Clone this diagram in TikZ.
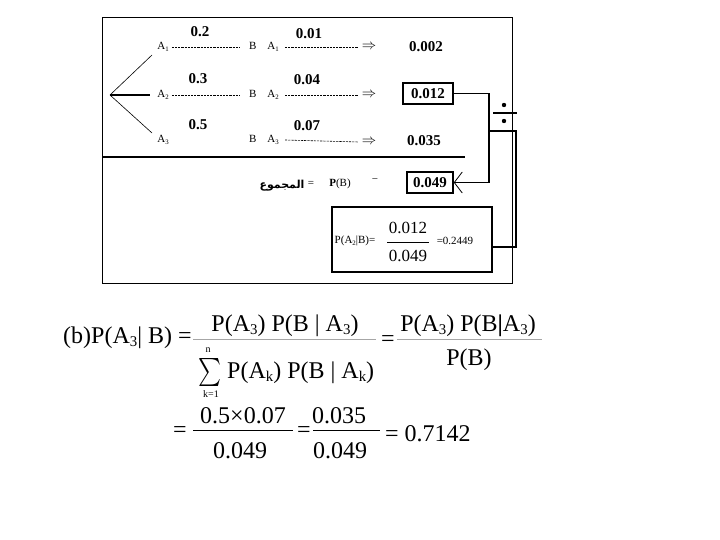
\documentclass[tikz,border=0pt]{standalone}
\usepackage{fontspec}
\setmainfont{Liberation Serif}
\newfontfamily\arabicfont[Script=Arabic]{DejaVu Sans}
\TeXXeTstate=1
\usetikzlibrary{arrows.meta}
\newcommand{\dn}[1]{\raisebox{-0.35ex}{\scalebox{0.62}{#1}}}
\begin{document}
\begin{tikzpicture}[x=1pt,y=-1pt,
  prob/.style={font=\fontsize{15}{15}\selectfont\bfseries, inner sep=0pt},
  lab/.style={font=\fontsize{11}{11}\selectfont, inner sep=0pt},
  small/.style={font=\fontsize{11}{11}\selectfont, inner sep=0pt},
  mid/.style={font=\fontsize{17}{17}\selectfont, inner sep=0pt},
  eq/.style={font=\fontsize{24}{24}\selectfont, inner sep=0pt},
  arr/.style={font=\fontsize{15}{15}\selectfont, inner sep=0pt},
  dashline/.style={dash pattern=on 2.2pt off 1pt, line width=0.6pt},
  conn/.style={line width=1.5pt},
  valbox/.style={draw, line width=1.5pt, inner sep=0pt},
  branch/.style={line width=0.6pt}]
\useasboundingbox (0,0) rectangle (720,540);
% frame
\draw[line width=0.8pt] (102,17) rectangle (512,283);
% tree
\coordinate (root) at (110,95);
\coordinate (e1) at (152,55);
\coordinate (e2) at (150,95);
\coordinate (e3) at (152,133);
\draw[branch] (root) -- (e1);
\draw[line width=1.6pt] (root) -- (e2);
\draw[branch] (root) -- (e3);
\node[lab] (a1) at (163,47) {A\dn{1}};
\node[lab] (a2) at (163,95) {A\dn{2}};
\node[lab] (a3) at (163,140) {A\dn{3}};
\node[prob] (p1) at (200,32) {0.2};
\node[prob] (p2) at (198,79) {0.3};
\node[prob] (p3) at (198,125) {0.5};
\node[lab] (b1) at (264,47) {B\quad A\dn{1}};
\node[lab] (b2) at (264,95) {B\quad A\dn{2}};
\node[lab] (b3) at (264,140) {B\quad A\dn{3}};
\draw[dashline] ([xshift=3pt]a1.east) -- ([xshift=-9pt]b1.west);
\draw[dashline] ([xshift=3pt]a2.east) -- ([xshift=-9pt]b2.west);
\node[prob] (q1) at (309,34) {0.01};
\node[prob] (q2) at (307,80) {0.04};
\node[prob] (q3) at (307,126) {0.07};
\node[arr] (r1) at (369,47) {$\Rightarrow$};
\node[arr] (r2) at (369,95) {$\Rightarrow$};
\node[arr] (r3) at (369,142) {$\Rightarrow$};
\draw[dashline] ([xshift=6pt]b1.east) -- ([xshift=-3pt]r1.west);
\draw[dashline] ([xshift=6pt]b2.east) -- ([xshift=-3pt]r2.west);
\draw[dashline] ([xshift=6pt]b3.east) -- ([xshift=-3pt]r3.west);
\node[prob] (v1) at (426,47) {0.002};
\node[prob, valbox, minimum width=50pt, minimum height=21pt] (v2) at (428,93.5) {0.012};
\node[prob] (v3) at (424,141) {0.035};
% separator
\draw[line width=2.5pt] (103,157) -- (465,157);
% total
\node[prob, valbox, minimum width=46pt, minimum height=21pt] (tot) at (430,182.5) {0.049};
\node[inner sep=0pt, font=\fontsize{11}{11}\selectfont] (ar) at (282,186) {\arabicfont\bfseries\beginR المجموع\endR};
\node[lab] (eqs) at (311,184) {=};
\node[lab] (pb) at (340,184) {\textbf{P}(B)};
\node[lab] (mn) at (375,181) {−};
% division sign
\fill (504,105) circle (2.2pt);
\draw[line width=1.5pt] (493,113) -- (517,113);
\fill (504,121) circle (2.2pt);
% connectors
\coordinate (j1) at (489,131);
\coordinate (j2) at (516,131);
\draw[conn, -{Straight Barb[length=8pt,width=21pt,line width=0.8pt]}] (v2.east) -| (j1) |- (tot.east);
% formula box
\node[draw, line width=1.5pt, minimum width=160pt, minimum height=65pt, inner sep=0pt] (fb) at (412,239.5) {};
\coordinate (fin) at (492,247);
\draw[conn] (j1) -- (j2) |- (fin);
\node[small] (fl) at (355,241) {P(A\dn{2}|B)=};
\node[mid] (fn) at (408,228) {0.012};
\draw[line width=0.6pt] (387,242) -- (429,242);
\node[mid] (fd) at (408,256) {0.049};
\node[small] (fr) at (455,241) {=0.2449};
% lower equation
\node[eq, anchor=base west] (lhs) at (63,343) {(b)P(A\dn{3}| B) =};
\node[eq, anchor=base] (n1) at (285,331) {P(A\dn{3}) P(B | A\dn{3})};
\draw[gray!70, line width=0.8pt] (193,339) -- (376,339);
\node[inner sep=0pt] (sig) at (210,372.5) {\resizebox{23pt}{21pt}{$\sum$}};
\node[inner sep=0pt, font=\fontsize{10}{10}\selectfont] (sn) at (208,350) {n};
\node[inner sep=0pt, font=\fontsize{10}{10}\selectfont] (sk) at (211,394) {k=1};
\node[eq, anchor=base west] (d1) at (227,378) {P(A\dn{k}) P(B | A\dn{k})};
\node[eq] (e1s) at (388,341) {=};
\node[eq, anchor=base] (n2) at (468,331) {P(A\dn{3}) P(B\textbf{|}A\dn{3})};
\draw[gray!70, line width=0.8pt] (397,339) -- (542,339);
\node[eq, anchor=base] (d2) at (469,365) {P(B)};
\node[eq] (e2s) at (180,432) {=};
\node[eq, anchor=base] (n3) at (243,423) {0.5×0.07};
\draw[line width=0.8pt] (193,430) -- (293,430);
\node[eq, anchor=base] (d3) at (240,458) {0.049};
\node[eq] (e3s) at (304,432) {=};
\node[eq, anchor=base] (n4) at (339,423) {0.035};
\draw[line width=0.8pt] (313,430) -- (380,430);
\node[eq, anchor=base] (d4) at (340,458) {0.049};
\node[eq, anchor=base west] (res) at (385,441) {= 0.7142};
\end{tikzpicture}
\end{document}
